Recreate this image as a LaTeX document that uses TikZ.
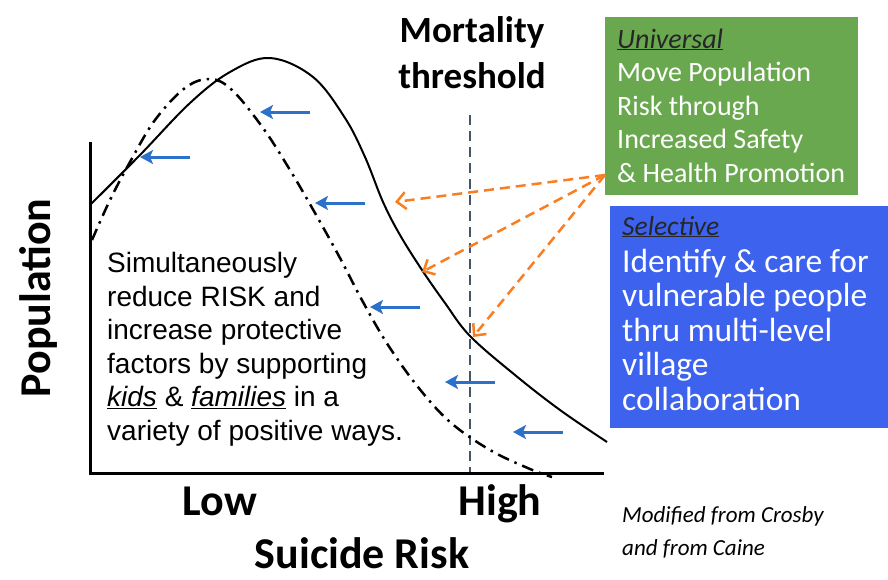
\documentclass[tikz,border=0pt]{standalone}
\usepackage{fontspec}
\setmainfont{Carlito}
\newfontfamily\arialfont{Liberation Sans}
\usetikzlibrary{arrows.meta,positioning}
\definecolor{srgreen}{HTML}{6AA84F}
\definecolor{srblue}{HTML}{3C62EE}
\definecolor{srorange}{HTML}{F97E22}
\definecolor{srarrow}{HTML}{2B71C9}
\definecolor{srslate}{HTML}{44546A}

\begin{document}
\begin{tikzpicture}[x=1pt,y=-1pt,
  axisline/.style={line width=3pt,black,line cap=rect},
  shiftarrow/.style={srarrow,line width=3pt,-{Stealth[length=13pt,width=14pt,inset=3pt]}},
  targetarrow/.style={srorange,line width=2.5pt,dash pattern=on 10pt off 6pt,
    -{Straight Barb[length=9pt,width=17pt]}},
  boxtext/.style={text=white,align=left,anchor=base west,inner sep=0pt},
  bigbold/.style={font=\fontsize{44}{50}\selectfont\bfseries,inner sep=0pt,anchor=base}]

  \useasboundingbox (0,0) rectangle (888,579);

  % ---- Axes ------------------------------------------------
  \draw[axisline] (90,143) -- (90,473) -- (602,473);
  \node[bigbold,rotate=90] (popl) at (50,298) {Population};
  \node[bigbold] (low)  at (220,515) {Low};
  \node[bigbold] (high) at (500,515) {High};
  \node[bigbold] (risk) at (362,568) {Suicide Risk};

  % ---- Mortality threshold ---------------------------------
  % (multi-line nodes: base = last line)
  \node[font=\fontsize{37}{46}\selectfont\bfseries,align=center,anchor=base,inner sep=0pt]
    (mortal) at (472,88) {Mortality\\threshold};
  \coordinate (mtop) at (470,115);
  \coordinate (mbot) at (470,472);
  \draw[srslate,line width=1.5pt,dash pattern=on 10pt off 6pt] (mtop) -- (mbot);

  % ---- Curves ----------------------------------------------
  % current population
  \draw[line width=2pt] plot[smooth,tension=0.6] coordinates {
    (90,205) (140,155) (190,103) (230,72) (270,58) (313,77) (345,118)
    (365,157) (383,202) (400,235) (422,270) (445,303) (470,336)
    (515,375) (560,410) (607,442)};
  % shifted population
  \draw[line width=2.5pt,dash pattern=on 12pt off 6pt on 2.5pt off 6pt]
    plot[smooth,tension=0.6] coordinates {
    (92,240) (110,200) (130,162) (155,120) (185,88) (210,79) (232,90)
    (263,128) (290,170) (315,213) (340,258) (363,302) (388,345)
    (418,387) (450,422) (490,450) (530,469) (552,477)};

  % ---- Shift arrows ----------------------------------------
  \foreach \i/\xa/\ya in {1/140/157,2/260/112,3/315/203,4/370/307,5/445/382,6/513/432}{
    \coordinate (shift\i) at (\xa+50,\ya);
    \coordinate (land\i)  at (\xa,\ya);
    \draw[shiftarrow] (shift\i) -- (land\i);
  }

  % ---- Text on the left ------------------------------------
  \node[font=\arialfont\fontsize{28}{33.5}\selectfont,align=left,anchor=base west,inner sep=0pt]
    (advice) at (107,440)
    {Simultaneously\\reduce RISK and\\increase protective\\factors by supporting\\
     \underline{\textit{kids}} \& \underline{\textit{families}} in a\\variety of positive ways.};

  % ---- Universal box ---------------------------------------
  \node[fill=srgreen,minimum width=253pt,minimum height=178pt,anchor=north west,inner sep=0pt]
    (univbox) at (605,17) {};
  \node[boxtext,font=\fontsize{28}{33.5}\selectfont] (univtext) at (617,182)
    {\textcolor{black!85}{\underline{\textit{Universal}}}\\Move Population\\Risk through\\
     Increased Safety\\\& Health Promotion};

  % ---- Selective box ---------------------------------------
  \node[fill=srblue,minimum width=278pt,minimum height=222pt,anchor=north west,inner sep=0pt]
    (selbox) at (610,206) {};
  \node[boxtext,text=black!85,font=\fontsize{27.5}{33}\selectfont\itshape] (selhead) at (622,235)
    {\underline{Selective}};
  \node[boxtext,font=\fontsize{33.5}{34.5}\selectfont] (selbody) at (622,410)
    {Identify \& care for\\vulnerable people\\thru multi-level\\village\\collaboration};

  % ---- Targeting arrows ------------------------------------
  \coordinate (univsrc) at (605,175);
  \coordinate (hit1) at (395,202);
  \coordinate (hit2) at (422,272);
  \coordinate (hit3) at (473,337);
  \foreach \h in {1,2,3}
    \draw[targetarrow] (univsrc) -- (hit\h);

  % ---- Credit ----------------------------------------------
  \node[font=\fontsize{23}{33}\selectfont\itshape,align=left,anchor=base west,inner sep=0pt]
    (credit) at (622,555) {Modified from Crosby\\and from Caine};

\end{tikzpicture}
\end{document}
